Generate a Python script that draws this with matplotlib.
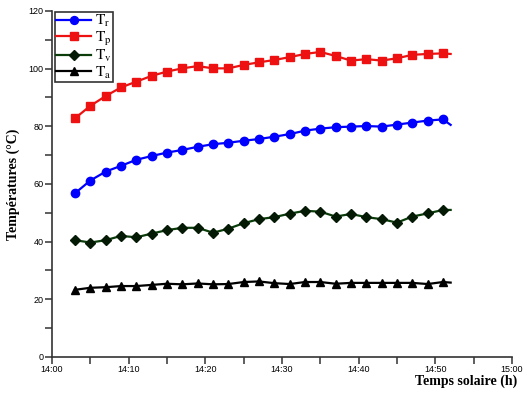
import matplotlib
matplotlib.use('Agg')
import matplotlib.pyplot as plt
from matplotlib.ticker import MultipleLocator, FuncFormatter

# minutes apres 14:00 (marqueur tous les 2 min, dernier point sans marqueur)
minutes = [3, 5, 7, 9, 11, 13, 15, 17, 19, 21, 23, 25, 27, 29, 31,
           33, 35, 37, 39, 41, 43, 45, 47, 49, 51, 52]

Tr = [56.8, 61.2, 64.3, 66.3, 68.4, 69.7, 70.9, 71.8, 72.9, 73.8, 74.3, 75.0, 75.6,
      76.4, 77.3, 78.5, 79.2, 79.7, 79.9, 80.1, 79.9, 80.6, 81.3, 82.0, 82.4, 80.5]
Tp = [82.8, 87.1, 90.5, 93.5, 95.5, 97.5, 99.0, 100.1, 100.9, 100.1, 100.1, 101.3, 102.2,
      103.0, 104.0, 105.1, 105.8, 104.4, 102.8, 103.3, 102.8, 103.6, 104.8, 105.1, 105.3, 105.1]
Tv = [40.5, 39.7, 40.5, 42.0, 41.5, 42.8, 44.0, 44.8, 44.8, 43.1, 44.5, 46.4, 47.8,
      48.5, 49.7, 50.7, 50.4, 48.7, 49.6, 48.5, 47.8, 46.6, 48.7, 49.8, 51.0, 51.0]
Ta = [23.3, 24.0, 24.2, 24.6, 24.6, 25.0, 25.4, 25.2, 25.5, 25.2, 25.3, 26.0, 26.2,
      25.6, 25.3, 26.0, 26.0, 25.4, 25.7, 25.7, 25.7, 25.7, 25.7, 25.3, 26.0, 25.8]

plt.rcParams['mathtext.fontset'] = 'stix'

fig = plt.figure(figsize=(5.27, 3.97), dpi=100)
ax = fig.add_axes([0.0987, 0.1008, 0.8728, 0.8715])

mk = slice(0, 25)
ax.plot(minutes, Tr, '-o', color='#0000ff', lw=1.6, ms=6, markevery=mk, label=r'$\mathrm{T_r}$')
ax.plot(minutes, Tp, '-s', color='#ee1111', lw=1.6, ms=5.5, markevery=mk, label=r'$\mathrm{T_p}$')
ax.plot(minutes, Tv, '-D', color='#0b3d0b', mfc='#051a05', mec='#051a05', lw=1.6, ms=5,
        markevery=mk, label=r'$\mathrm{T_v}$')
ax.plot(minutes, Ta, '-^', color='black', lw=1.6, ms=6, markevery=mk, label=r'$\mathrm{T_a}$')

ax.set_xlim(0, 60)
ax.set_ylim(0, 120)
ax.xaxis.set_major_locator(MultipleLocator(10))
ax.xaxis.set_minor_locator(MultipleLocator(5))
ax.yaxis.set_major_locator(MultipleLocator(20))
ax.yaxis.set_minor_locator(MultipleLocator(10))
ax.xaxis.set_major_formatter(FuncFormatter(lambda v, p: '%d:%02d' % (14 + int(v) // 60, int(v) % 60)))

for s in ['top', 'right']:
    ax.spines[s].set_visible(False)
for s in ['left', 'bottom']:
    ax.spines[s].set_linewidth(1.2)
    ax.spines[s].set_color('#333333')

ax.tick_params(which='major', direction='out', length=5, width=1.1, color='#333333',
               labelsize=6.5, pad=1)
ax.tick_params(which='minor', direction='out', length=5, width=1.1, color='#333333')
for t in ax.get_xticklabels() + ax.get_yticklabels():
    t.set_fontfamily('Liberation Sans')

ax.set_ylabel('Températures (°C)', family='Liberation Serif', fontweight='bold', fontsize=10, labelpad=6)
fig.text(0.982, 0.022, 'Temps solaire (h)', family='Liberation Serif', fontweight='bold',
         fontsize=10, ha='right', va='bottom')

leg = ax.legend(loc='upper left', bbox_to_anchor=(0.006, 0.998), fontsize=11, frameon=True,
                fancybox=False, edgecolor='#333333', framealpha=1, handlelength=2.3,
                borderpad=0.1, labelspacing=0.02, handletextpad=0.25, borderaxespad=0.0,
                markerscale=0.95)
leg.get_frame().set_linewidth(1.2)

fig.savefig('out.png', dpi=100)
